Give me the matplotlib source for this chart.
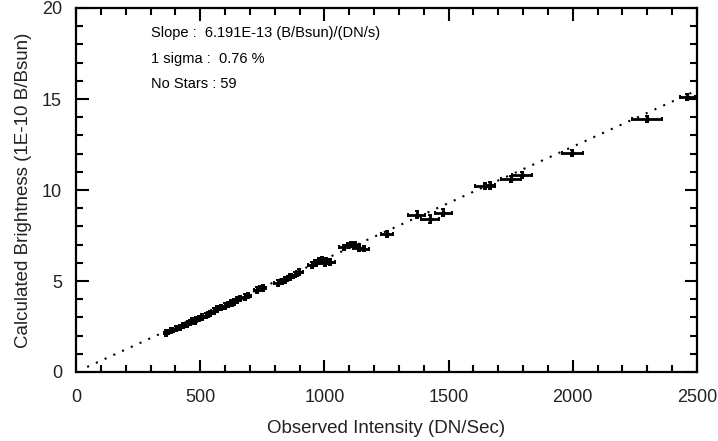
import matplotlib
matplotlib.use("Agg")
import matplotlib.pyplot as plt
from matplotlib.ticker import MultipleLocator
import numpy as np

plt.rcParams['font.family'] = ['Liberation Sans', 'DejaVu Sans']

# Observed intensity (DN/s) of each star
obs = [363, 384, 401, 417, 432, 445, 457, 469, 478, 483, 496, 508, 523, 541, 557,
       569, 584, 599, 613, 625, 630, 638, 650, 662, 679, 693, 729, 742, 754,
       813, 828, 843, 862, 880, 899, 950, 965, 977, 991, 1001, 1006, 1021,
       1077, 1095, 1109, 1123, 1138, 1158, 1251, 1372, 1425, 1479,
       1646, 1666, 1751, 1795, 1998, 2300, 2461]
# Calculated brightness (1E-10 B/Bsun)
calc = [2.14, 2.28, 2.38, 2.45, 2.55, 2.62, 2.72, 2.80, 2.78, 2.88, 2.95, 3.02, 3.10, 3.22, 3.35,
        3.45, 3.55, 3.62, 3.70, 3.80, 3.75, 3.88, 3.95, 4.05, 4.12, 4.20, 4.50, 4.60, 4.62,
        4.90, 4.98, 5.05, 5.22, 5.35, 5.50, 5.88, 6.00, 6.10, 6.18, 5.98, 6.12, 6.05,
        6.85, 6.95, 7.02, 6.98, 6.82, 6.78, 7.58, 8.64, 8.41, 8.75,
        10.20, 10.25, 10.59, 10.84, 12.05, 13.88, 15.13]
# Errors
obs_err = [10, 10, 10, 12, 10, 12, 10, 12, 10, 12, 12, 12, 12, 12, 12,
           12, 12, 14, 12, 12, 12, 14, 12, 14, 14, 12, 12, 14, 12,
           14, 14, 12, 14, 12, 14, 16, 16, 18, 16, 20, 18, 20,
           20, 18, 20, 20, 22, 20, 24, 34, 36, 33,
           40, 22, 40, 40, 43, 61, 31]
calc_err = [0.15] * 49 + [0.2, 0.2, 0.2, 0.17, 0.17, 0.17, 0.17, 0.17, 0.17, 0.17]

slope_fit = 6.191e-3   # (1E-10 B/Bsun) per (DN/s)
fit_x = [45, 2500]

fig = plt.figure(figsize=(7.18, 4.41), dpi=100)
ax = fig.add_axes([76/718, 1 - 372/441, (697-76)/718, (372-8)/441])

ax.errorbar(obs, calc, xerr=obs_err, yerr=calc_err, fmt='o', ms=2.5, color='black',
            ecolor='black', elinewidth=2.0, capsize=1.3, capthick=1.4)
fx = np.array(fit_x, dtype=float)
ax.plot(fx, slope_fit * fx, color='black', lw=1.5, linestyle=(0, (1, 3.6)))

ax.set_xlim(0, 2500)
ax.set_ylim(0, 20)
ax.xaxis.set_major_locator(MultipleLocator(500))
ax.xaxis.set_minor_locator(MultipleLocator(100))
ax.yaxis.set_major_locator(MultipleLocator(5))
ax.yaxis.set_minor_locator(MultipleLocator(1))
ax.tick_params(which='both', direction='in', top=True, right=True, width=1.5,
               labelsize=13, labelcolor='#222222')
ax.tick_params(which='major', length=9)
ax.tick_params(axis='x', which='major', pad=12)
ax.tick_params(axis='y', which='major', pad=10)
ax.tick_params(which='minor', length=5)
for s in ax.spines.values():
    s.set_linewidth(1.6)

ax.set_xlabel('Observed Intensity (DN/Sec)', fontsize=13.5, color='#222222', labelpad=10)
ax.set_ylabel('Calculated Brightness (1E-10 B/Bsun)', fontsize=13.5, color='#222222', labelpad=7)

ax.text(0.12, 0.93, 'Slope :  6.191E-13 (B/Bsun)/(DN/s)', transform=ax.transAxes, fontsize=10.5, va='center')
ax.text(0.12, 0.86, '1 sigma :  0.76 %', transform=ax.transAxes, fontsize=10.5, va='center')
ax.text(0.12, 0.79, 'No Stars : 59', transform=ax.transAxes, fontsize=10.5, va='center')

fig.savefig('out.png', dpi=100)
